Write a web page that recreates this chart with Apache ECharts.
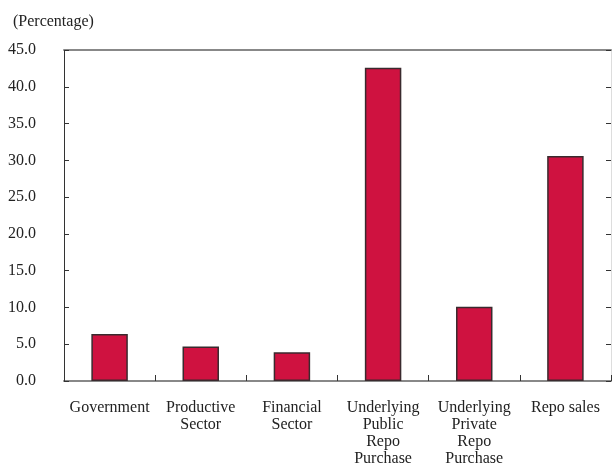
<!DOCTYPE html>
<html>
<head>
<meta charset="utf-8">
<script src="https://cdn.jsdelivr.net/npm/echarts@6/dist/echarts.min.js"></script>
<style>html,body{margin:0;padding:0;background:#fff}#c{width:612px;height:464px}</style>
</head>
<body>
<div id="c"></div>
<script>
const categories = ['Government', 'Productive\nSector', 'Financial\nSector', 'Underlying\nPublic\nRepo\nPurchase', 'Underlying\nPrivate\nRepo\nPurchase', 'Repo sales'];
const values = [6.4, 4.7, 3.9, 42.6, 10.1, 30.6];
const yMin = 0, yMax = 45, yStep = 5;
const unitLabel = '(Percentage)';

const font = 'Liberation Serif, Times New Roman, serif';
const chart = echarts.init(document.getElementById('c'), null, {renderer: 'canvas'});
chart.setOption({
  animation: false,
  backgroundColor: '#fff',
  title: {text: unitLabel, left: 8, top: 9, textStyle: {fontFamily: font, fontSize: 16, fontWeight: 'normal', color: '#222'}},
  grid: {left: 64, right: 1, top: 50, bottom: 83, containLabel: false, outerBoundsMode: 'none'},
  xAxis: [{
    type: 'category', data: categories, position: 'bottom',
    axisLine: {onZero: false, lineStyle: {color: '#888', width: 2}},
    axisTick: {show: true, inside: true, length: 6, lineStyle: {color: '#333', width: 1}},
    axisLabel: {interval: 0, fontFamily: font, fontSize: 16, color: '#222', lineHeight: 17, margin: 18}
  }, {
    show: true, type: 'category', data: categories, position: 'top',
    axisLine: {show: true, onZero: false, lineStyle: {color: '#888', width: 2}},
    axisTick: {show: false}, axisLabel: {show: false}
  }],
  yAxis: [{
    type: 'value', min: yMin, max: yMax, interval: yStep, position: 'left',
    axisLine: {show: true, onZero: false, lineStyle: {color: '#333', width: 1}},
    axisTick: {show: true, inside: true, length: 5, lineStyle: {color: '#333'}},
    splitLine: {show: false},
    axisLabel: {fontFamily: font, fontSize: 16, color: '#222', margin: 28, formatter: v => v.toFixed(1)}
  }, {
    type: 'value', min: yMin, max: yMax, interval: yStep, position: 'right',
    axisLine: {show: true, onZero: false, lineStyle: {color: '#ddd', width: 1}},
    axisTick: {show: true, inside: true, length: 5, lineStyle: {color: '#333'}},
    splitLine: {show: false}, axisLabel: {show: false}
  }],
  series: [{
    type: 'bar', data: values, barWidth: '40%',
    itemStyle: {color: '#CF1240', borderColor: '#3a2a2e', borderWidth: 1.5}
  }]
});
</script>
</body>
</html>
